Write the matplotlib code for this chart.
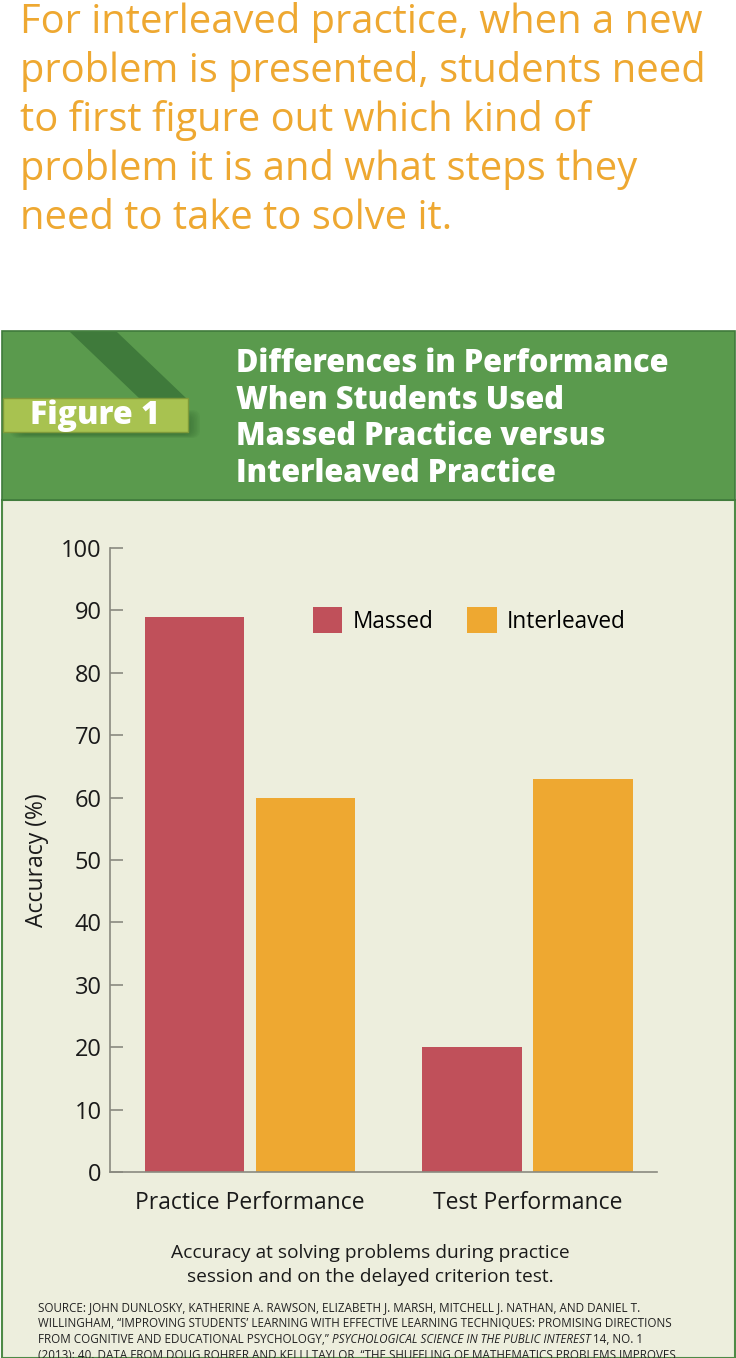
import matplotlib.pyplot as plt
import matplotlib.patches as mpatches

plt.rcParams['font.family'] = ['Open Sans', 'DejaVu Sans']

# data
groups = ['Practice Performance', 'Test Performance']
series = ['Massed', 'Interleaved']
massed = [89, 20]
interleaved = [60, 63]
yticks = [0, 10, 20, 30, 40, 50, 60, 70, 80, 90, 100]

intro_lines = ['For interleaved practice, when a new',
               'problem is presented, students need',
               'to first figure out which kind of',
               'problem it is and what steps they',
               'need to take to solve it.']
title_lines = ['Differences in Performance',
               'When Students Used',
               'Massed Practice versus',
               'Interleaved Practice']
caption = 'Accuracy at solving problems during practice\nsession and on the delayed criterion test.'
source_lines = ['SOURCE: JOHN DUNLOSKY, KATHERINE A. RAWSON, ELIZABETH J. MARSH, MITCHELL J. NATHAN, AND DANIEL T.',
                'WILLINGHAM, \u201cIMPROVING STUDENTS\u2019 LEARNING WITH EFFECTIVE LEARNING TECHNIQUES: PROMISING DIRECTIONS',
                'FROM COGNITIVE AND EDUCATIONAL PSYCHOLOGY,\u201d ',
                '(2013): 40. DATA FROM DOUG ROHRER AND KELLI TAYLOR, \u201cTHE SHUFFLING OF MATHEMATICS PROBLEMS IMPROVES']
journal = 'PSYCHOLOGICAL SCIENCE IN THE PUBLIC INTEREST'
after_journal = ' 14, NO. 1'

red = '#C0505A'
orange = '#EEA831'
green = '#5A9A4D'
dark_green = '#3F7A3B'
beige = '#EDEEDD'
ink = '#1A1A1A'

W, H = 736, 1358
fig = plt.figure(figsize=(W / 100, H / 100), dpi=100)

# background layer in pixel coordinates
bg = fig.add_axes([0, 0, 1, 1])
bg.set_xlim(0, W)
bg.set_ylim(H, 0)
bg.axis('off')
bg.set_zorder(0)

for i, line in enumerate(intro_lines):
    bg.text(20, 33 + 49 * i, line, color=orange, fontsize=28.7, va='baseline', ha='left')

# panel
bg.add_patch(mpatches.Rectangle((2, 500), 733, H - 500, facecolor=beige, edgecolor='#4E8A46', lw=1.5))
bg.add_patch(mpatches.Rectangle((2, 331), 733, 169, facecolor=green, edgecolor='#3F7A3B', lw=1.2))
bg.add_patch(mpatches.Polygon([(70, 332), (117, 332), (187, 399), (140, 399)], closed=True,
                              facecolor=dark_green, edgecolor='none'))
# soft shadow under the Figure 1 tag
for k in range(8):
    bg.add_patch(mpatches.FancyBboxPatch((10 + k * 1.5, 410 + k), 190 - k * 3, 28 - k * 1.5,
                                         boxstyle='round,pad=0,rounding_size=8',
                                         facecolor='#2A5A28', edgecolor='none', alpha=0.07))
bg.add_patch(mpatches.Rectangle((3, 398), 185, 34, facecolor='#A8C250', edgecolor='#7E9A3A', lw=1))
bg.text(95, 416, 'Figure 1', color='white', fontsize=23, fontweight='heavy', ha='center', va='center')
for i, line in enumerate(title_lines):
    bg.text(236, 364 + 36.7 * i, line, color='white', fontsize=22.1, fontweight='heavy',
            ha='left', va='center')

# chart
ax = fig.add_axes([110 / W, (H - 1172) / H, 547 / W, 624 / H])
ax.set_zorder(1)
ax.patch.set_alpha(0)
x = [0, 1]
bw = 0.357
ax.bar([xi - 0.2 for xi in x], massed, bw, color=red, label=series[0])
ax.bar([xi + 0.2 for xi in x], interleaved, bw, color=orange, label=series[1])
ax.set_xlim(-0.5045, 1.4667)
ax.set_ylim(0, 100)
ax.set_yticks(yticks)
ax.set_xticks(x)
ax.set_xticklabels(groups)
for s in ['top', 'right']:
    ax.spines[s].set_visible(False)
for s in ['left', 'bottom']:
    ax.spines[s].set_color('#8A8A80')
    ax.spines[s].set_linewidth(1.2)
ax.tick_params(axis='y', direction='in', length=9, width=1.2, color='#8A8A80',
               labelsize=17, pad=6, labelcolor=ink)
ax.tick_params(axis='x', length=0, labelsize=16.5, pad=14, labelcolor=ink)
ax.set_ylabel('Accuracy (%)', fontsize=16.5, color=ink, labelpad=9)

ax.legend(loc='upper left', bbox_to_anchor=(313 / W, 1 - 607 / H), bbox_transform=fig.transFigure,
          ncol=2, frameon=False, fontsize=16.3, borderpad=0, borderaxespad=0,
          handlelength=1.3, handleheight=1.4, handletextpad=0.45, columnspacing=1.5)

bg.text(370, 1265, caption, fontsize=13.8, ha='center', va='center', linespacing=1.4, color=ink)

fs = 8.4
y0 = 1311
for i, line in enumerate(source_lines):
    t = bg.text(38, y0 + 16 * i, line, fontsize=fs, ha='left', va='baseline', color='#222222')
    if i == 2:
        fig.canvas.draw()
        r = fig.canvas.get_renderer()
        xj = bg.transData.inverted().transform((t.get_window_extent(r).x1, 0))[0]
        tj = bg.text(xj, y0 + 32, journal, fontsize=fs, style='italic', ha='left',
                     va='baseline', color='#222222')
        xa = bg.transData.inverted().transform((tj.get_window_extent(r).x1, 0))[0]
        bg.text(xa, y0 + 32, after_journal, fontsize=fs, ha='left', va='baseline', color='#222222')

fig.savefig('out.png', dpi=100)
